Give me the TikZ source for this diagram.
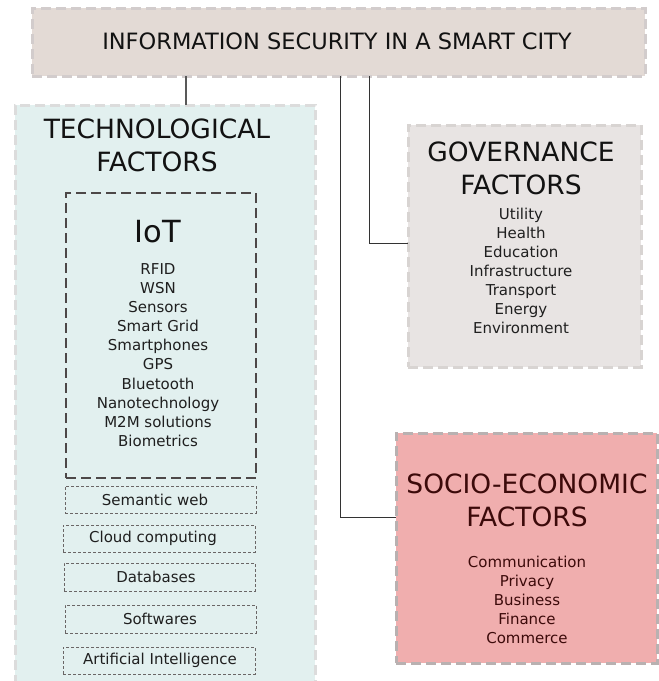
\documentclass[tikz,border=0pt]{standalone}
\usepackage{fontspec}
\setmainfont{DejaVu Sans}
\definecolor{titlefill}{HTML}{E3DAD5}
\definecolor{titleline}{HTML}{D2CCCC}
\definecolor{techfill}{HTML}{E2F0EF}
\definecolor{techline}{HTML}{DCDCDC}
\definecolor{iotline}{HTML}{4D4848}
\definecolor{smallline}{HTML}{6A6666}
\definecolor{govfill}{HTML}{E8E4E3}
\definecolor{govline}{HTML}{D8D4D2}
\definecolor{sociofill}{HTML}{F0AEAE}
\definecolor{socioline}{HTML}{B9B1B1}
\definecolor{sociotext}{HTML}{3C0A0A}
\definecolor{conn}{HTML}{333333}
\tikzset{
  boxbase/.style={rectangle, anchor=north west, inner sep=0pt, outer sep=0pt},
  bigdash/.style={line width=3pt, dash pattern=on 10pt off 5pt},
  titlebox/.style={boxbase, fill=titlefill, draw=titleline, bigdash},
  techbox/.style={boxbase, fill=techfill, draw=techline, bigdash},
  iotbox/.style={boxbase, draw=iotline, line width=2.8pt, dash pattern=on 10pt off 5pt},
  smallbox/.style={boxbase, draw=smallline, line width=0.8pt, dash pattern=on 3pt off 2pt},
  govbox/.style={boxbase, fill=govfill, draw=govline, bigdash},
  sociobox/.style={boxbase, fill=sociofill, draw=socioline, bigdash},
  bigtitle/.style={align=center, inner sep=0pt, text=black!93, font=\fontsize{26.5}{33}\selectfont},
  itemtext/.style={align=center, inner sep=0pt, text=black!88, font=\fontsize{15}{19.1}\selectfont},
  smalltext/.style={inner sep=0pt, text=black!88, font=\fontsize{15}{18}\selectfont},
  connector/.style={draw=conn, line width=1pt},
}
\begin{document}
\begin{tikzpicture}[x=1pt,y=-1pt]
\useasboundingbox (0,0) rectangle (659,681);
% boxes
\node[titlebox, minimum width=613pt, minimum height=68pt] (title) at (32,8) {};
\node[techbox, minimum width=300pt, minimum height=600pt] (tech) at (15,105) {};
\node[iotbox, minimum width=190pt, minimum height=285pt] (iot) at (66,193) {};
\node[smallbox, minimum width=191pt, minimum height=27pt] (sem) at (65,486) {};
\node[smallbox, minimum width=192pt, minimum height=27pt] (cloud) at (63,525) {};
\node[smallbox, minimum width=191pt, minimum height=28pt] (db) at (64,563) {};
\node[smallbox, minimum width=191pt, minimum height=28pt] (soft) at (65,605) {};
\node[smallbox, minimum width=192pt, minimum height=27pt] (ai) at (63,647) {};
\node[govbox, minimum width=233pt, minimum height=242pt] (gov) at (408,125) {};
\node[sociobox, minimum width=261pt, minimum height=230pt] (socio) at (396,433) {};
% texts
\node[inner sep=0pt, text=black!93, font=\fontsize{22.5}{27}\selectfont] (titletext) at (337,41) {INFORMATION SECURITY IN A SMART CITY};
\node[bigtitle] (techtitle) at (157,145.5) {TECHNOLOGICAL\\FACTORS};
\node[inner sep=0pt, text=black!93, font=\fontsize{30.5}{36}\selectfont] (iottitle) at (158,232) {IoT};
\node[itemtext] (iotitems) at (158,355) {RFID\\WSN\\Sensors\\Smart Grid\\Smartphones\\GPS\\Bluetooth\\Nanotechnology\\M2M solutions\\Biometrics};
\node[smalltext] (semt) at (155,499.5) {Semantic web};
\node[smalltext] (cloudt) at (153,538.5) {Cloud computing};
\node[smalltext] (dbt) at (156,577) {Databases};
\node[smalltext] (softt) at (160,619) {Softwares};
\node[smalltext] (ait) at (160,660.5) {Artificial Intelligence};
\node[bigtitle] (govtitle) at (521,168.5) {GOVERNANCE\\FACTORS};
\node[itemtext, font=\fontsize{15}{19}\selectfont] (govitems) at (521,271) {Utility\\Health\\Education\\Infrastructure\\Transport\\Energy\\Environment};
\node[bigtitle, text=sociotext] (sociotitle) at (527,500.5) {SOCIO-ECONOMIC\\FACTORS};
\node[itemtext, text=sociotext, font=\fontsize{15}{19}\selectfont] (socioitems) at (527,600) {Communication\\Privacy\\Business\\Finance\\Commerce};
% connectors
\draw[draw=black!65, line width=1.2pt] (title.south -| 186,0) -- (tech.north -| 186,0);
\draw[connector] (title.south -| 340,0) -- (340,517) -- (socio.west |- 0,517);
\draw[connector] (title.south -| 369,0) -- (369,243) -- (gov.west |- 0,243);
\end{tikzpicture}
\end{document}
